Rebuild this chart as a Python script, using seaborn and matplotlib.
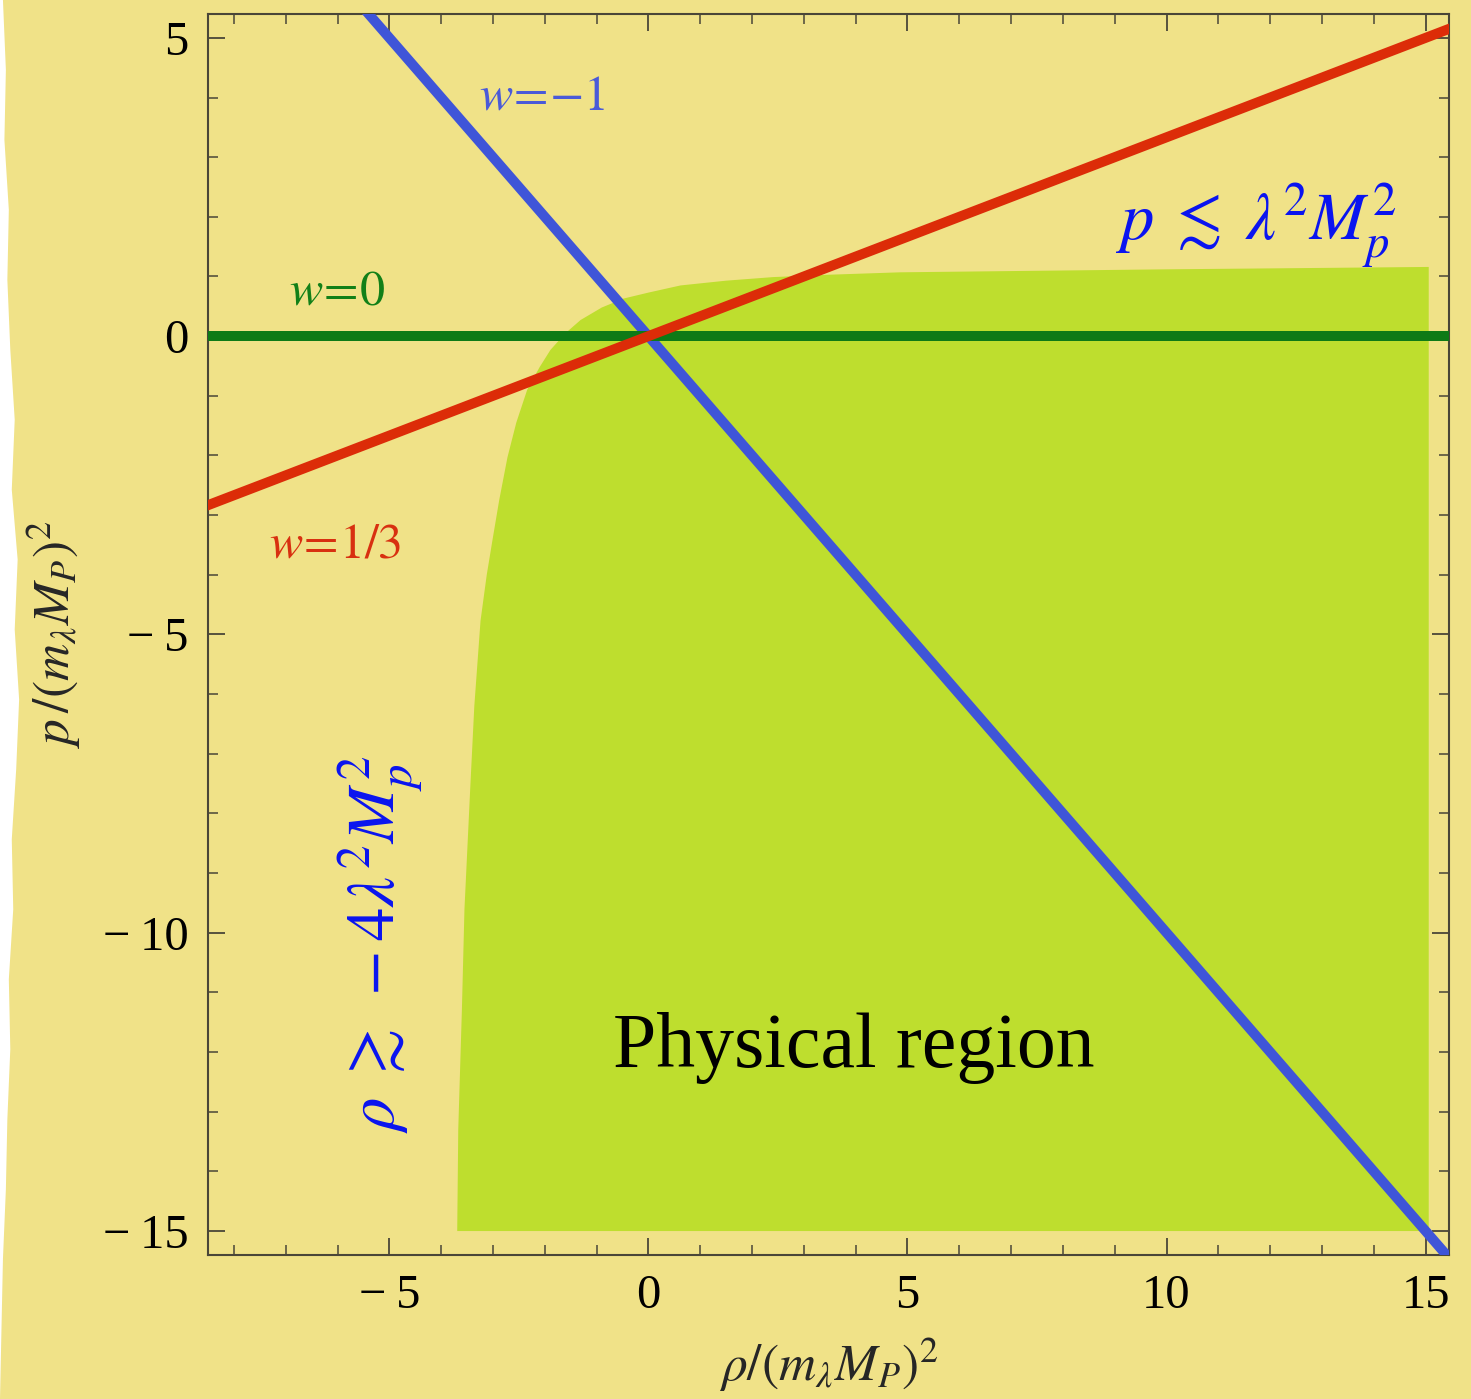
import matplotlib
matplotlib.use('Agg')

import numpy as np
import matplotlib.pyplot as plt
from matplotlib.patches import Polygon
import seaborn as sns

# equation-of-state lines p = w * rho
rho_line = [-9.0, 16.0]
w_values = [-1.0, 0.0, 1.0 / 3.0]
w_colors = ["#3f55d8", "#0e7a16", "#dc2c08"]

# upper-left boundary of the physical region (rho, p)
rho_edge = [-3.69, -3.67, -3.60, -3.55, -3.44, -3.36, -3.24, -3.12, -3.01,
            -2.88, -2.72, -2.55, -2.34, -2.1, -1.89, -1.6, -1.31, -0.9,
            -0.48, 0.0, 0.62, 1.5, 2.41, 3.5, 4.86, 10.0, 15.06]
p_edge = [-15.0, -13.3, -11.3, -9.6, -7.6, -6.2, -4.77, -4.0, -3.42,
          -2.75, -2.03, -1.45, -0.90, -0.52, -0.23, 0.05, 0.27, 0.48,
          0.63, 0.73, 0.85, 0.93, 0.99, 1.03, 1.07, 1.12, 1.16]
p_floor = -15.0

PAPER = "#f0e288"

sns.set_theme(style="ticks")
plt.rcParams['font.family'] = ['Liberation Serif', 'DejaVu Serif']
plt.rcParams['mathtext.fontset'] = 'stix'

fig = plt.figure(figsize=(14.71, 13.99), dpi=100, facecolor=PAPER)
ax = fig.add_axes([0.1414, 0.103, 0.8436, 0.887])
ax.set_facecolor(PAPER)

# torn white edge on the left of the paper
edge_y = [1.0, 0.95, 0.9, 0.85, 0.8, 0.75, 0.7, 0.65, 0.6, 0.55, 0.5,
          0.45, 0.4, 0.35, 0.3, 0.25, 0.2, 0.15, 0.1, 0.05, 0.0]
edge_x = [0.002, 0.004, 0.003, 0.006, 0.005, 0.007, 0.010, 0.008, 0.012, 0.010,
          0.013, 0.011, 0.008, 0.009, 0.006, 0.007, 0.005, 0.004, 0.002, 0.001, 0.0]
torn = [(0, 1)] + list(zip(edge_x, edge_y)) + [(0, 0)]
fig.patches.append(Polygon(torn, closed=True, transform=fig.transFigure,
                           facecolor="white", edgecolor="none", zorder=-1))

# physical region
region_x = rho_edge + [rho_edge[-1], rho_edge[0]]
region_y = p_edge + [p_floor, p_floor]
ax.fill(region_x, region_y, color="#bede2e", lw=0, zorder=1)

# lines
for w, c in zip(w_values, w_colors):
    sns.lineplot(x=rho_line, y=[w * r for r in rho_line], color=c, lw=7.2,
                 ax=ax, legend=False, zorder=3)

ax.set_xlim(-8.5, 15.45)
ax.set_ylim(-15.4, 5.4)

ax.set_xticks([-5, 0, 5, 10, 15])
ax.set_yticks([-15, -10, -5, 0, 5])
ax.set_xticklabels(["\u2212\u20095", "0", "5", "10", "15"])
ax.set_yticklabels(["\u2212\u200915", "\u2212\u200910", "\u2212\u20095", "0", "5"])
ax.set_xticks(np.arange(-8, 16, 1), minor=True)
ax.set_yticks(np.arange(-15, 6, 1), minor=True)
ax.tick_params(which='both', direction='in', top=True, right=True,
               color="#4a4638", labelsize=35, labelcolor="black")
ax.tick_params(which='major', length=12, width=1.3, pad=14)
ax.tick_params(which='minor', length=7, width=1.1)
for s in ax.spines.values():
    s.set_color("#4a4638")
    s.set_linewidth(1.5)

ax.set_xlabel(r"$\rho/(m_\lambda M_P)^2$", fontsize=37, labelpad=12)
ax.set_ylabel(r"$p\,/(m_\lambda M_P)^2$", fontsize=37, labelpad=14)

ax.text(-2.05, 4.0, r"$w\!=\!{-}1$", color="#4a5ad8", fontsize=36,
        ha='center', va='center')
ax.text(-6.02, 0.74, r"$w\!=\!0$", color="#128018", fontsize=36,
        ha='center', va='center')
ax.text(-6.04, -3.5, r"$w\!=\!1/3$", color="#d83010", fontsize=36,
        ha='center', va='center')
ax.text(11.72, 1.86, r"$p\;\lesssim\;\lambda^2 M_p^2$", color="#0a14f0",
        fontsize=48, ha='center', va='center')
ax.text(-5.17, -10.2, r"$\rho\;\gtrsim\;-4\lambda^2 M_p^2$", color="#0a14f0",
        fontsize=48, ha='center', va='center', rotation=90)
ax.text(3.96, -11.93, "Physical region", color="black", fontsize=56,
        ha='center', va='center')

fig.savefig("out.png", dpi=100, facecolor=PAPER)
